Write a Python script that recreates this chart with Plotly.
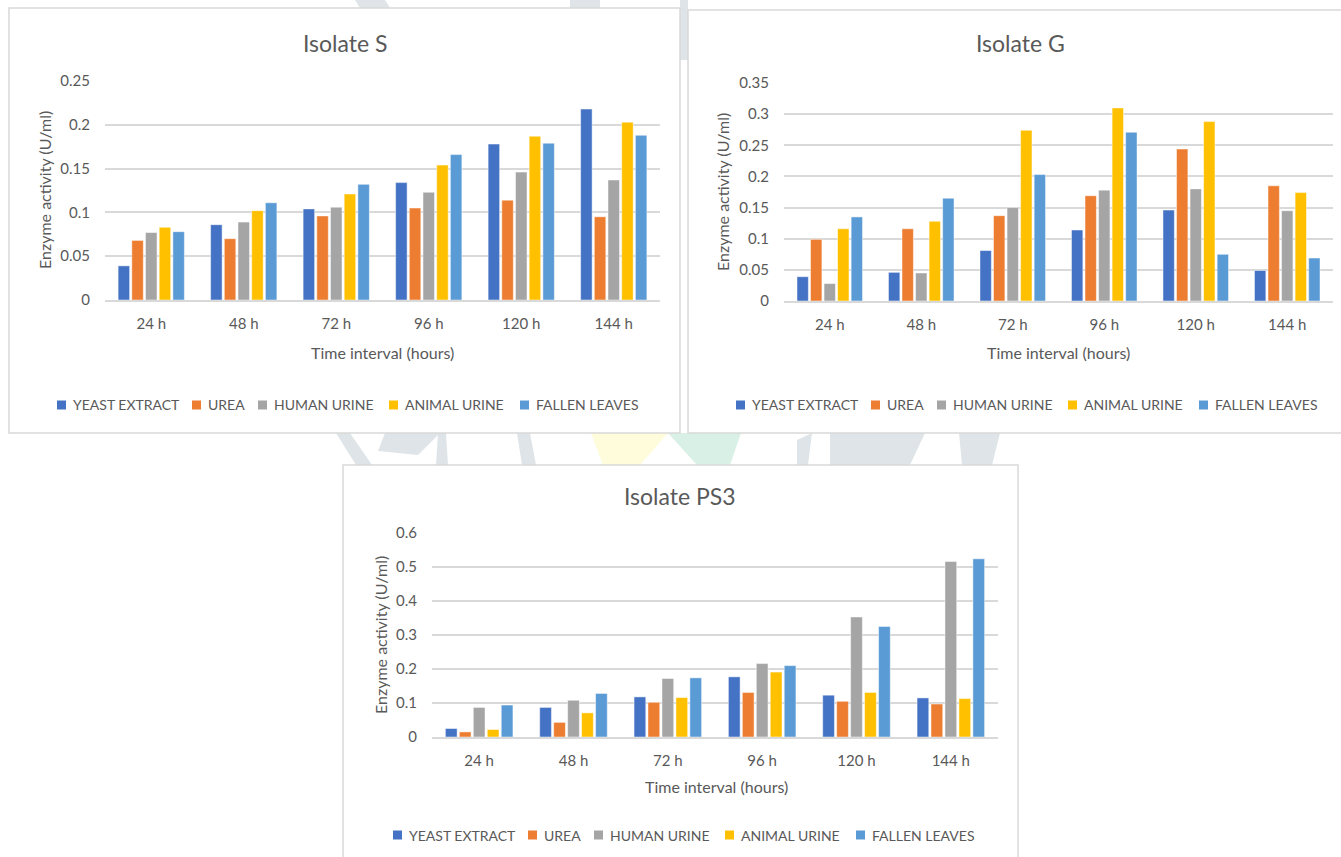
import plotly.graph_objects as go

# Sampling times (x categories) and nitrogen sources (series)
times = ["24 h", "48 h", "72 h", "96 h", "120 h", "144 h"]
sources = ["YEAST EXTRACT", "UREA", "HUMAN URINE", "ANIMAL URINE", "FALLEN LEAVES"]
colors = ["#4472C4", "#ED7D31", "#A5A5A5", "#FFC000", "#5B9BD5"]

# Enzyme activity (U/ml) per source for each isolate
s_yeast = [0.039, 0.086, 0.104, 0.134, 0.178, 0.218]
s_urea = [0.068, 0.070, 0.096, 0.105, 0.114, 0.095]
s_human = [0.077, 0.089, 0.106, 0.123, 0.146, 0.137]
s_animal = [0.083, 0.102, 0.121, 0.154, 0.187, 0.203]
s_leaves = [0.078, 0.111, 0.132, 0.166, 0.179, 0.188]

g_yeast = [0.039, 0.046, 0.081, 0.114, 0.146, 0.049]
g_urea = [0.099, 0.116, 0.137, 0.169, 0.244, 0.185]
g_human = [0.028, 0.045, 0.150, 0.178, 0.180, 0.145]
g_animal = [0.116, 0.128, 0.274, 0.310, 0.288, 0.174]
g_leaves = [0.135, 0.165, 0.203, 0.271, 0.075, 0.069]

p_yeast = [0.025, 0.087, 0.118, 0.177, 0.123, 0.115]
p_urea = [0.015, 0.043, 0.102, 0.131, 0.105, 0.097]
p_human = [0.087, 0.108, 0.172, 0.216, 0.353, 0.516]
p_animal = [0.022, 0.071, 0.116, 0.191, 0.131, 0.113]
p_leaves = [0.094, 0.128, 0.174, 0.210, 0.325, 0.524]

W, H = 1341, 857
FONT = "Lato"
TXT = "#595959"
GRID = "#D9D9D9"
# horizontal offsets of the legend swatches, relative to the first one
LEG_OFFSETS = [0, 135, 201, 332, 463]


def px(x):
    return x / W


def py(y):
    return 1 - y / H


panels = [
    dict(name="Isolate S", data=[s_yeast, s_urea, s_human, s_animal, s_leaves],
         plot=(105, 660, 81, 300), ymax=0.25, dtick=0.05,
         box=(9, 680, 8, 433), title_xy=(345, 43), xt_xy=(382, 352),
         yt_xy=(45, 190), leg_xy=(57, 405)),
    dict(name="Isolate G", data=[g_yeast, g_urea, g_human, g_animal, g_leaves],
         plot=(784, 1333, 83, 301), ymax=0.35, dtick=0.05,
         box=(688, 1345, 10, 433), title_xy=(1020, 43), xt_xy=(1058, 352),
         yt_xy=(722, 192), leg_xy=(736, 405)),
    dict(name="Isolate PS3", data=[p_yeast, p_urea, p_human, p_animal, p_leaves],
         plot=(432, 998, 533, 737), ymax=0.6, dtick=0.1,
         box=(343, 1018, 465, 870), title_xy=(680, 496), xt_xy=(716, 786),
         yt_xy=(380, 635), leg_xy=(393, 835)),
]

fig = go.Figure()
shapes = []
annotations = []
layout_axes = {}

# faint page watermark showing in the gaps between the chart frames
WM_GRAY = "#DEE4E7"
watermark = [
    ([(336, 433), (350, 433), (372, 465), (356, 465)], WM_GRAY),
    ([(385, 433), (440, 433), (418, 455), (378, 451)], WM_GRAY),
    ([(438, 433), (446, 433), (448, 465), (436, 465)], WM_GRAY),
    ([(517, 433), (530, 433), (536, 465), (522, 465)], WM_GRAY),
    ([(591, 433), (668, 433), (640, 465), (603, 465)], "#FEFCDA"),
    ([(668, 433), (741, 433), (730, 465), (697, 465)], "#D9F0E6"),
    ([(797, 440), (812, 433), (808, 465), (797, 465)], WM_GRAY),
    ([(830, 433), (925, 433), (910, 465), (830, 465)], WM_GRAY),
    ([(959, 433), (1000, 433), (992, 465), (962, 465)], WM_GRAY),
    ([(680, 0), (688, 0), (688, 60), (680, 60)], WM_GRAY),
    ([(355, 0), (385, 0), (390, 8), (360, 8)], WM_GRAY),
    ([(570, 0), (600, 0), (600, 8), (570, 8)], WM_GRAY),
]
for pts, col in watermark:
    path = "M" + " L".join(f"{px(x):.5f},{py(y):.5f}" for x, y in pts) + " Z"
    shapes.append(dict(type="path", xref="paper", yref="paper", path=path,
                       fillcolor=col, line=dict(width=0), layer="below"))

for i, p in enumerate(panels):
    k = "" if i == 0 else str(i + 1)
    xa, ya = "x" + k, "y" + k
    bx0, bx1, by0, by1 = p["box"]
    shapes.append(dict(type="rect", xref="paper", yref="paper",
                       x0=px(bx0), x1=px(bx1), y0=py(by1), y1=py(by0),
                       line=dict(color=GRID, width=1.5), fillcolor="white",
                       layer="below"))
    for name, vals, col in zip(sources, p["data"], colors):
        fig.add_trace(go.Bar(
            x=times, y=vals, name=name, xaxis=xa, yaxis=ya, showlegend=False,
            marker=dict(color=col, line=dict(color="rgba(255,255,255,0.6)", width=0.8)),
            hovertemplate="%{x}: %{y}<extra>" + name + "</extra>",
        ))
    x0, x1, y0, y1 = p["plot"]
    layout_axes["xaxis" + k] = dict(
        domain=[px(x0), px(x1)], anchor=ya, showgrid=False, showline=True,
        linecolor=GRID, linewidth=1.5, ticks="", ticklabelstandoff=9,
        tickfont=dict(family=FONT, size=15, color=TXT), fixedrange=True,
    )
    layout_axes["yaxis" + k] = dict(
        domain=[py(y1), py(y0)], anchor=xa, range=[0, p["ymax"]], dtick=p["dtick"],
        showgrid=True, gridcolor=GRID, gridwidth=1.5, zeroline=False, showline=False,
        ticks="", ticklabelstandoff=14, tickformat="~g",
        tickfont=dict(family=FONT, size=15, color=TXT), fixedrange=True,
    )
    # legend row: small square swatch followed by the series name
    lx, ly = p["leg_xy"]
    for off, name, col in zip(LEG_OFFSETS, sources, colors):
        sx = lx + off
        shapes.append(dict(type="rect", xref="paper", yref="paper",
                           x0=px(sx), x1=px(sx + 9), y0=py(ly + 4.5), y1=py(ly - 4.5),
                           line=dict(width=0), fillcolor=col))
        annotations.append(dict(text=name, x=px(sx + 14), y=py(ly), xref="paper",
                                yref="paper", xanchor="left", yanchor="middle",
                                showarrow=False,
                                font=dict(family=FONT, size=14, color=TXT)))
    tx, ty = p["title_xy"]
    annotations.append(dict(text=p["name"], x=px(tx), y=py(ty), xref="paper", yref="paper",
                            xanchor="center", yanchor="middle", showarrow=False,
                            font=dict(family=FONT, size=23, color=TXT)))
    ax_, ay_ = p["xt_xy"]
    annotations.append(dict(text="Time interval (hours)", x=px(ax_), y=py(ay_),
                            xref="paper", yref="paper", xanchor="center",
                            yanchor="middle", showarrow=False,
                            font=dict(family=FONT, size=16, color=TXT)))
    yx, yy = p["yt_xy"]
    annotations.append(dict(text="Enzyme activity (U/ml)", x=px(yx), y=py(yy),
                            xref="paper", yref="paper", xanchor="center",
                            yanchor="middle", showarrow=False, textangle=-90,
                            font=dict(family=FONT, size=16, color=TXT)))

fig.update_layout(
    width=W, height=H, margin=dict(l=0, r=0, t=0, b=0, autoexpand=False),
    paper_bgcolor="white", plot_bgcolor="rgba(0,0,0,0)",
    barmode="group", bargap=0.26, bargroupgap=0.16, showlegend=False,
    shapes=shapes, annotations=annotations, **layout_axes,
)

fig.write_html("out.html")
